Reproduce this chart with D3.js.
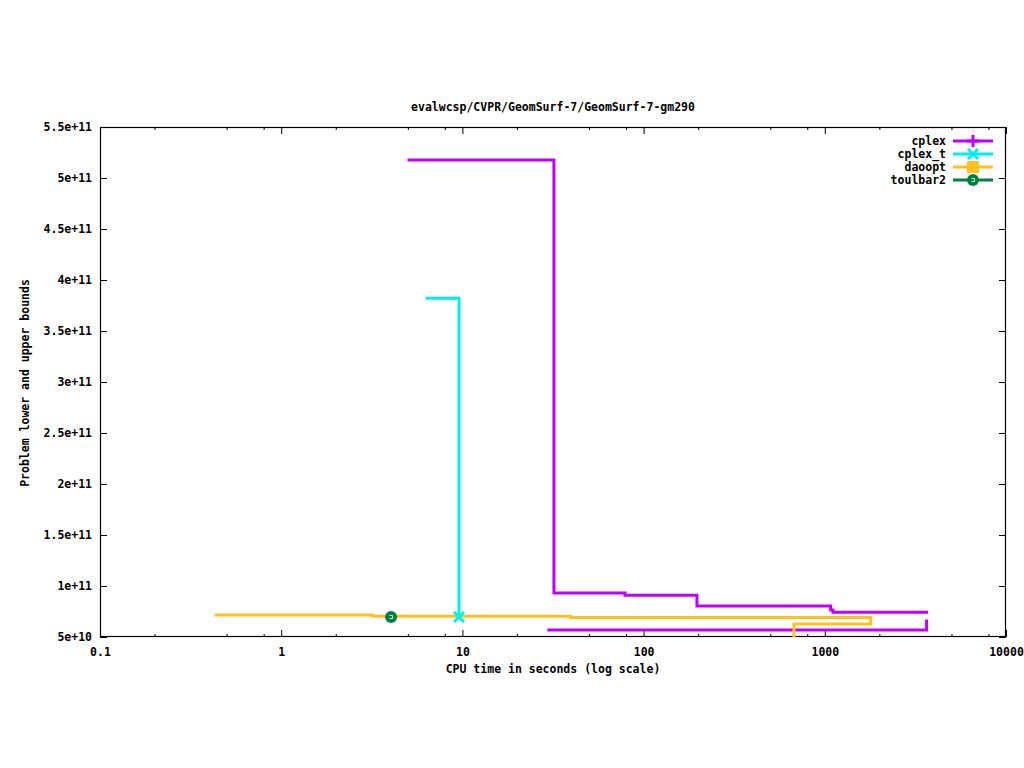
<!DOCTYPE html>
<html><head><meta charset="utf-8">
<script src="https://cdn.jsdelivr.net/npm/d3@7"></script>
<style>body{margin:0;background:#fff}svg text{font-family:"DejaVu Sans Mono",monospace;font-weight:bold;font-size:11.5px;fill:#000}</style>
</head><body><svg id="c" width="1024" height="768"></svg>
<script>
const title = "evalwcsp/CVPR/GeomSurf-7/GeomSurf-7-gm290";
const xLabel = "CPU time in seconds (log scale)";
const yLabel = "Problem lower and upper bounds";
const xTickValues = [0.1, 1, 10, 100, 1000, 10000];
const xTickLabels = ["0.1", "1", "10", "100", "1000", "10000"];
const yTickValues = [5e10, 1e11, 1.5e11, 2e11, 2.5e11, 3e11, 3.5e11, 4e11, 4.5e11, 5e11, 5.5e11];
const yTickLabels = ["5e+10", "1e+11", "1.5e+11", "2e+11", "2.5e+11", "3e+11", "3.5e+11", "4e+11", "4.5e+11", "5e+11", "5.5e+11"];
const seriesNames = ["cplex", "cplex_t", "daoopt", "toulbar2"];
const seriesColors = ["#c000ff", "#00eeee", "#ffc020", "#008040"];
// [time, value] pairs, drawn as steps
const cplexUpper = [[5.07, 5.176e11], [32.0, 9.32e10], [78.9, 9.1e10], [197, 8.05e10], [1077, 7.65e10], [1110, 7.43e10], [3647, 7.43e10]];
const cplexLower = [[30.0, 5.69e10], [3647, 6.57e10]];
const cplexTUpper = [[6.38, 3.82e11], [9.58, 6.96e10]];
const daooptUpper = [[0.437, 7.16e10], [3.21, 7.03e10], [39.6, 6.9e10], [1791, 6.9e10]];
const daooptLower = [[600, 4.5e10], [676, 6.28e10], [1791, 6.9e10]];
const cplexTMarker = [[9.58, 6.96e10]];
const toulbar2Marker = [[4.04, 6.96e10]];

const L = 100, R = 1006, T = 127, B = 637;
const svg = d3.select("#c");
const x = d3.scaleLog().domain([0.1, 10000]).range([L, R]);
const y = d3.scaleLinear().domain([5e10, 5.5e11]).range([B, T]);

svg.append("defs").append("clipPath").attr("id", "clip")
  .append("rect").attr("x", L).attr("y", T).attr("width", R - L).attr("height", B - T);

// minor x ticks at 2,5,8 per decade
const minor = [];
[0.1, 1, 10, 100, 1000].forEach(d => [2, 5, 8].forEach(m => minor.push(d * m)));

const g = svg.append("g");
const xb = d3.axisBottom(x).tickValues(xTickValues).tickFormat((d, i) => xTickLabels[i]).tickSize(-7).tickPadding(9);
const gx = g.append("g").attr("transform", `translate(0,${B})`).call(xb);
const xt = d3.axisTop(x).tickValues(xTickValues).tickFormat("").tickSize(-7);
const gxt = g.append("g").attr("transform", `translate(0,${T})`).call(xt);
const xbm = d3.axisBottom(x).tickValues(minor).tickFormat("").tickSize(-3);
const gxm = g.append("g").attr("transform", `translate(0,${B})`).call(xbm);
const xtm = d3.axisTop(x).tickValues(minor).tickFormat("").tickSize(-3);
const gxtm = g.append("g").attr("transform", `translate(0,${T})`).call(xtm);
const yl = d3.axisLeft(y).tickValues(yTickValues).tickFormat((d, i) => yTickLabels[i]).tickSize(-7).tickPadding(8);
const gy = g.append("g").attr("transform", `translate(${L},0)`).call(yl);
const yr = d3.axisRight(y).tickValues(yTickValues).tickFormat("").tickSize(-7);
const gyr = g.append("g").attr("transform", `translate(${R},0)`).call(yr);
[gx, gxt, gxm, gxtm, gy, gyr].forEach(a => {
  a.select(".domain").remove();
  a.selectAll("line").attr("stroke", "#000").attr("stroke-width", 1);
  a.selectAll("text").attr("font-family", null).attr("font-size", null).style("fill", "#000");
});
gx.selectAll("text").attr("dy", "0.85em");

svg.append("rect").attr("x", L + 0.5).attr("y", T + 0.5).attr("width", R - L - 1).attr("height", B - T - 1)
  .attr("fill", "none").attr("stroke", "#000").attr("stroke-width", 1.2);

const line = d3.line().x(d => x(d[0])).y(d => y(d[1])).curve(d3.curveStepAfter);
const plot = svg.append("g").attr("clip-path", "url(#clip)");
const lines = [[cplexUpper, 0], [cplexLower, 0], [cplexTUpper, 1], [daooptUpper, 2], [daooptLower, 2]];
lines.forEach(([data, ci]) => {
  plot.append("path").attr("d", line(data)).attr("fill", "none")
    .attr("stroke", seriesColors[ci]).attr("stroke-width", 3).attr("stroke-linejoin", "miter").attr("stroke-linecap", "square");
});

function marker(gr, type, cx, cy, color) {
  if (type === 0) {
    gr.append("path").attr("d", `M${cx - 6},${cy}H${cx + 6}M${cx},${cy - 6}V${cy + 6}`).attr("stroke", color).attr("stroke-width", 3);
  } else if (type === 1) {
    gr.append("path").attr("d", `M${cx - 5},${cy - 5}L${cx + 5},${cy + 5}M${cx - 5},${cy + 5}L${cx + 5},${cy - 5}`).attr("stroke", color).attr("stroke-width", 3);
  } else if (type === 2) {
    gr.append("rect").attr("x", cx - 6).attr("y", cy - 6).attr("width", 12).attr("height", 12).attr("fill", color);
  } else {
    gr.append("circle").attr("cx", cx).attr("cy", cy).attr("r", 6).attr("fill", color);
    gr.append("path").attr("d", `M${cx - 1.5},${cy - 1.5}H${cx + 1.5}V${cy + 1.5}H${cx - 1.5}`).attr("stroke", "#cfe8d8").attr("stroke-width", 1).attr("fill", "none");
  }
}
cplexTMarker.forEach(d => marker(svg, 1, x(d[0]), y(d[1]), seriesColors[1]));
toulbar2Marker.forEach(d => marker(svg, 3, x(d[0]), y(d[1]), seriesColors[3]));

const lg = svg.append("g");
seriesNames.forEach((n, i) => {
  const yy = 141 + i * 13;
  lg.append("text").attr("x", 946).attr("y", yy).attr("dy", "0.35em").attr("text-anchor", "end").text(n);
  lg.append("line").attr("x1", 953).attr("x2", 993).attr("y1", yy).attr("y2", yy).attr("stroke", seriesColors[i]).attr("stroke-width", 3);
  marker(lg, i, 973, yy, seriesColors[i]);
});

svg.append("text").attr("x", 553).attr("y", 111).attr("text-anchor", "middle").text(title);
svg.append("text").attr("x", 553).attr("y", 673).attr("text-anchor", "middle").text(xLabel);
svg.append("text").attr("transform", "translate(29,383) rotate(-90)").attr("text-anchor", "middle").text(yLabel);
</script></body></html>
